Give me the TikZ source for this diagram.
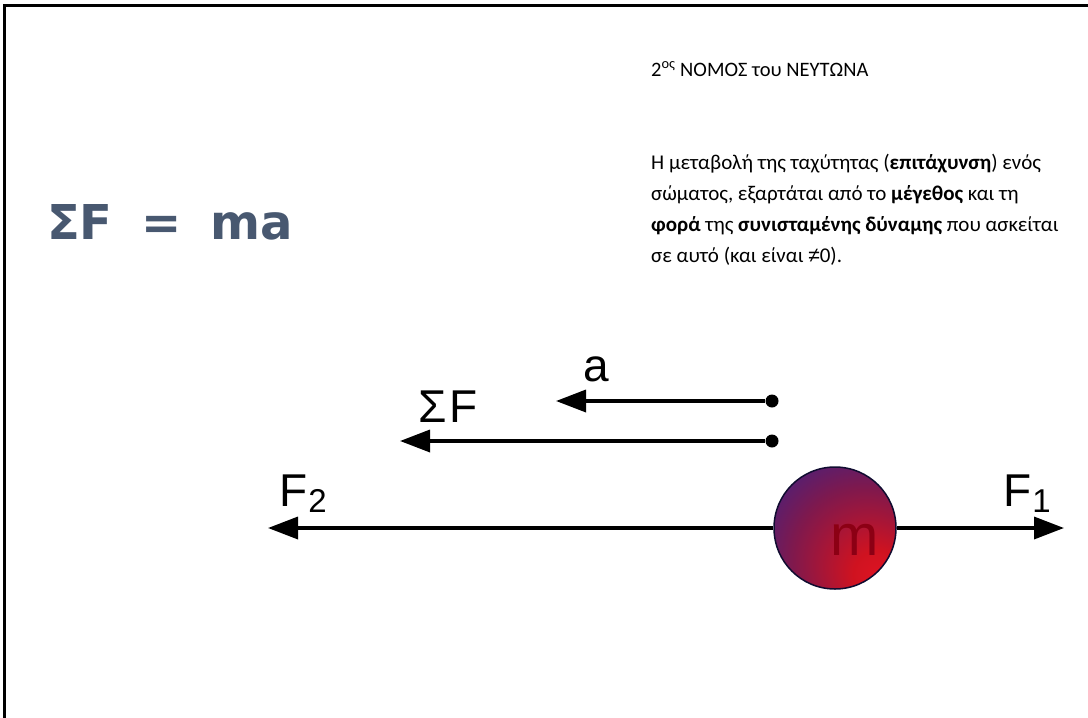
\documentclass[tikz,border=0pt]{standalone}
\usepackage{fontspec}
\setmainfont{Carlito}
\newfontfamily\figfont{Liberation Sans}
\newfontfamily\eqfont{DejaVu Sans}
\usetikzlibrary{positioning,arrows.meta}
\definecolor{eqslate}{RGB}{72,88,112}
\definecolor{massred}{RGB}{225,20,35}
\definecolor{massblue}{RGB}{55,40,160}
\definecolor{mdark}{RGB}{140,0,20}
\pgfdeclareradialshading{massball}{\pgfpoint{20bp}{-22bp}}{%
  color(0bp)=(massred); color(10bp)=(massred!92!black);
  color(30bp)=(massred!55!massblue!85!black); color(50bp)=(massblue!90!black);
  color(75bp)=(massblue!75!black)}
\newcommand{\lowsub}[1]{\raisebox{-0.15em}{\fontsize{33}{33}\selectfont #1}}

\begin{document}
\begin{tikzpicture}[x=1pt, y=-1pt,
  vec/.style={line width=3.5pt, -{Triangle[length=30pt,width=22pt]}},
  tail/.style={circle, fill=black, inner sep=0pt, minimum size=13pt},
  vlabel/.style={font=\figfont\fontsize{46}{46}\selectfont, inner sep=0pt, anchor=base west},
  lawtext/.style={font=\fontsize{21}{31}\selectfont, align=left, inner sep=0pt, anchor=base west}]
\useasboundingbox (0,0) rectangle (1088,718);
\draw[line width=2.5pt] (4.5,718) -- (4.5,5.5) -- (1088,5.5);
\node[font=\fontsize{20.5}{24}\selectfont, inner sep=0pt, anchor=base west] (title) at (651,76)
  {2\textsuperscript{ος} ΝΟΜΟΣ του ΝΕΥΤΩΝΑ};
\node[lawtext] (law) at (651,262)
  {Η μεταβολή της ταχύτητας (\textbf{επιτάχυνση}) ενός\\
   σώματος, εξαρτάται από το \textbf{μέγεθος} και τη\\
   \textbf{φορά} της \textbf{συνισταμένης δύναμης} που ασκείται\\
   σε αυτό (και είναι {\figfont ≠}0).};
\node[font=\eqfont\bfseries\fontsize{48}{48}\selectfont, text=eqslate] (sumfma) at (170,222)
  {ΣF\hspace{0.6em}=\hspace{0.6em}ma};
\node[tail] (atail) at (772,401) {};
\coordinate (atip) at (556,401);
\node[tail] (ftail) at (772,441) {};
\coordinate (ftip) at (400,441);
\node[circle, minimum size=122pt, shading=massball, draw=massblue!30!black, line width=1.5pt] (mass) at (835,528) {};
\node[font=\figfont\fontsize{58}{58}\selectfont, text=mdark, inner sep=0pt] (mlabel) at (855,540) {m};
\coordinate (f2tip) at (268,528);
\coordinate (f1tip) at (1064,528);
\draw[vec] (atail) -- (atip);
\draw[vec] (ftail) -- (ftip);
\draw[vec] (mass.west) -- (f2tip);
\draw[vec] (mass.east) -- (f1tip);
\node[vlabel] (alabel) at (583,381) {a};
\node[vlabel] (sflabel) at (418,422) {Σ\hspace{3pt}F};
\node[vlabel] (f2label) at (279,506) {F\hspace{1pt}\lowsub{2}};
\node[vlabel] (f1label) at (1003,506) {F\hspace{1pt}\lowsub{1}};
\end{tikzpicture}
\end{document}
